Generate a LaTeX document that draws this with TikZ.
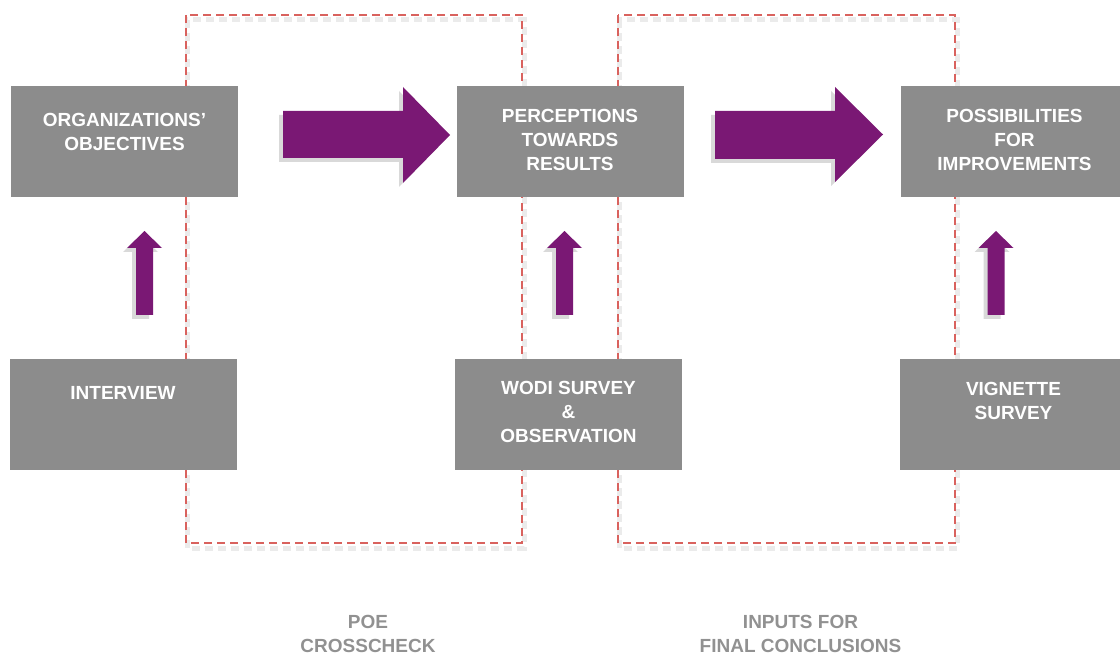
\documentclass[tikz,border=0pt]{standalone}
\usepackage{fontspec}
\setmainfont{Liberation Sans}
\usetikzlibrary{positioning,shadows}
\definecolor{boxgray}{RGB}{140,140,140}
\definecolor{arrowpurple}{RGB}{122,24,116}
\definecolor{dashred}{RGB}{217,98,94}
\definecolor{labelgray}{RGB}{145,145,145}

\begin{document}
\begin{tikzpicture}[x=1pt,y=-1pt,
	box/.style={rectangle, fill=boxgray, minimum width=227pt, minimum height=111pt, inner sep=0pt},
	boxtext/.style={align=center, inner sep=0pt, text=white, font=\fontsize{19}{24}\selectfont\bfseries},
	steplabel/.style={align=center, inner sep=0pt, text=labelgray, font=\fontsize{19}{24}\selectfont\bfseries},
	bigarrow/.style={fill=arrowpurple, drop shadow={shadow xshift=-4pt, shadow yshift=-4pt, opacity=0.3}},
	frame/.style={dashred, line width=2.2pt, dash pattern=on 8pt off 5pt},
	frameshadow/.style={black!8, line width=5pt, dash pattern=on 8pt off 5pt}]

\useasboundingbox (0,0) rectangle (1120,655);

% dashed frames
\draw[frameshadow] (187,20) rectangle (524,548);
\draw[frameshadow] (619,20) rectangle (957,548);
\draw[frame] (186,15) rectangle (522,543);
\draw[frame] (618,15) rectangle (955,543);

% top row
\node[box] (org) at (124.5,141.5) {};
\node[box] (perc) at (570,141.5) {};
\node[box] (poss) at (1014.5,141.5) {};
\node[boxtext, below=27pt of org.north] (orgtext) {ORGANIZATIONS'\\OBJECTIVES};
\node[boxtext, below=23pt of perc.north] (perctext) {PERCEPTIONS\\TOWARDS\\RESULTS};
\node[boxtext, below=23pt of poss.north] (posstext) {POSSIBILITIES\\FOR\\IMPROVEMENTS};

% bottom row
\node[box] (interview) at (123,414.5) {};
\node[box] (wodi) at (568.5,414.5) {};
\node[box] (vignette) at (1013.5,414.5) {};
\node[boxtext, below=27pt of interview.north] (interviewtext) {INTERVIEW};
\node[boxtext, below=22pt of wodi.north] (woditext) {WODI SURVEY\\\&\\OBSERVATION};
\node[boxtext, below=23pt of vignette.north] (vignettetext) {VIGNETTE\\SURVEY};

% right arrows
\fill[bigarrow] (283,111) -- (403,111) -- (403,87) -- (450,135) -- (403,183) -- (403,158) -- (283,158) -- cycle;
\fill[bigarrow] (715,111) -- (835,111) -- (835,87) -- (883,134.5) -- (835,182) -- (835,159) -- (715,159) -- cycle;

% up arrows
\fill[bigarrow] (136,315) -- (136,248) -- (127,248) -- (144.5,231) -- (162,248) -- (153,248) -- (153,315) -- cycle;
\fill[bigarrow] (556,315) -- (556,248) -- (547,248) -- (564.5,231) -- (582,248) -- (573,248) -- (573,315) -- cycle;
\fill[bigarrow] (987.5,315) -- (987.5,248) -- (978.5,248) -- (996,231) -- (1013.5,248) -- (1004.5,248) -- (1004.5,315) -- cycle;

% captions
\node[steplabel] (poe) at (368,634) {POE\\CROSSCHECK};
\node[steplabel] (inputs) at (800.5,634) {INPUTS FOR\\FINAL CONCLUSIONS};

\end{tikzpicture}
\end{document}
